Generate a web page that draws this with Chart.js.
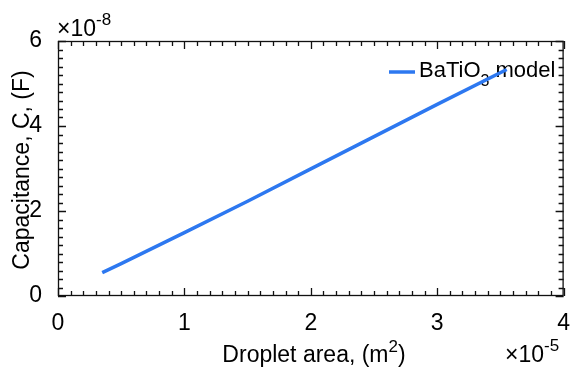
<!DOCTYPE html>
<html>
<head>
<meta charset="utf-8">
<script src="https://cdn.jsdelivr.net/npm/chart.js@4"></script>
<style>
  html, body { margin: 0; padding: 0; background: #fff; }
  #box { width: 576px; height: 369px; position: relative; }
</style>
</head>
<body>
<div id="box"><canvas id="grafico"></canvas></div>
<script>
// dati (area in 1e-5 m^2, capacita in 1e-8 F)
const area = [0.35, 0.5, 1.0, 1.5, 2.0, 2.5, 3.0, 3.55];
const capacita = [0.55, 0.76, 1.49, 2.23, 2.99, 3.75, 4.51, 5.33];
const tickX = [0, 1, 2, 3, 4];
const tickY = [0, 2, 4, 6];
const nomeSerie = ['BaTiO', '3', ' model'];

const FONT = '"Liberation Sans", Arial, Helvetica, sans-serif';
const BLU = 'rgb(45,120,240)';

// disegna testo con pezzi in apice/pedice
function testoRicco(ctx, pezzi, x, y, allinea) {
  let tot = 0;
  for (const p of pezzi) { ctx.font = p.size + 'px ' + FONT; tot += ctx.measureText(p.t).width; }
  let cx = allinea === 'center' ? x - tot / 2 : x;
  ctx.textAlign = 'left';
  ctx.textBaseline = 'alphabetic';
  for (const p of pezzi) {
    ctx.font = p.size + 'px ' + FONT;
    ctx.fillText(p.t, cx, y + (p.dy || 0));
    cx += ctx.measureText(p.t).width;
  }
}

const cornice = {
  id: 'cornice',
  beforeDatasetsDraw(chart) {
    const ctx = chart.ctx;
    ctx.save();
    ctx.fillStyle = '#000';
    // legenda
    ctx.strokeStyle = BLU;
    ctx.lineWidth = 3.5;
    ctx.beginPath();
    ctx.moveTo(389, 72);
    ctx.lineTo(415, 72);
    ctx.stroke();
    testoRicco(ctx, [
      {t: nomeSerie[0], size: 22},
      {t: nomeSerie[1], size: 16, dy: 9},
      {t: nomeSerie[2], size: 22}
    ], 419, 77, 'left');
    ctx.restore();
  },
  afterDraw(chart) {
    const {ctx, chartArea: a, scales: {x, y}} = chart;
    ctx.save();
    ctx.strokeStyle = '#111';
    ctx.lineWidth = 1.3;
    ctx.strokeRect(a.left + 0.5, a.top + 0.5, a.right - a.left - 1, a.bottom - a.top - 1);
    ctx.beginPath();
    for (let i = 0; i <= 40; i++) {
      const px = Math.round(x.getPixelForValue(i / 10)) + 0.5;
      const l = i % 10 === 0 ? 8 : 5;
      ctx.moveTo(px, a.bottom); ctx.lineTo(px, a.bottom - l);
      ctx.moveTo(px, a.top); ctx.lineTo(px, a.top + l);
    }
    for (let i = 0; i <= 30; i++) {
      const py = Math.round(y.getPixelForValue(i / 5)) + 0.5;
      const l = i % 10 === 0 ? 8 : 5;
      ctx.moveTo(a.left, py); ctx.lineTo(a.left + l, py);
      ctx.moveTo(a.right, py); ctx.lineTo(a.right - l, py);
    }
    ctx.stroke();

    ctx.fillStyle = '#000';
    // titoli assi
    testoRicco(ctx, [
      {t: 'Droplet area, (m', size: 23},
      {t: '2', size: 17, dy: -10},
      {t: ')', size: 23}
    ], 314, 362, 'center');
    ctx.save();
    ctx.translate(29, 170);
    ctx.rotate(-Math.PI / 2);
    ctx.font = '23px ' + FONT;
    ctx.textAlign = 'center';
    ctx.textBaseline = 'alphabetic';
    ctx.fillText('Capacitance, C, (F)', 0, 0);
    ctx.restore();

    // esponenti
    testoRicco(ctx, [
      {t: '\u00d710', size: 23},
      {t: '-8', size: 17, dy: -11}
    ], 57, 36, 'left');
    testoRicco(ctx, [
      {t: '\u00d710', size: 23},
      {t: '-5', size: 17, dy: -11}
    ], 505, 362, 'left');
    ctx.restore();
  }
};

new Chart(document.getElementById('grafico'), {
  type: 'scatter',
  data: {
    datasets: [{
      label: nomeSerie.join(''),
      data: area.map((v, i) => ({x: v, y: capacita[i]})),
      showLine: true,
      borderColor: BLU,
      backgroundColor: BLU,
      borderWidth: 3.5,
      pointRadius: 0,
      tension: 0
    }]
  },
  options: {
    responsive: true,
    maintainAspectRatio: false,
    animation: false,
    layout: { padding: { top: 41, right: 7, left: 0, bottom: 0 } },
    plugins: { legend: { display: false }, tooltip: { enabled: false } },
    scales: {
      x: {
        type: 'linear', min: 0, max: 4,
        afterBuildTicks: s => { s.ticks = tickX.map(v => ({value: v})); },
        afterFit: s => { s.height = 73; },
        grid: { display: false },
        border: { display: false },
        ticks: { color: '#000', font: { size: 23, family: FONT }, padding: 6, maxRotation: 0 }
      },
      y: {
        type: 'linear', min: 0, max: 6,
        afterBuildTicks: s => { s.ticks = tickY.map(v => ({value: v})); },
        afterFit: s => { s.width = 58; },
        grid: { display: false },
        border: { display: false },
        ticks: { color: '#000', font: { size: 23, family: FONT }, padding: 8 }
      }
    }
  },
  plugins: [cornice]
});
</script>
</body>
</html>
